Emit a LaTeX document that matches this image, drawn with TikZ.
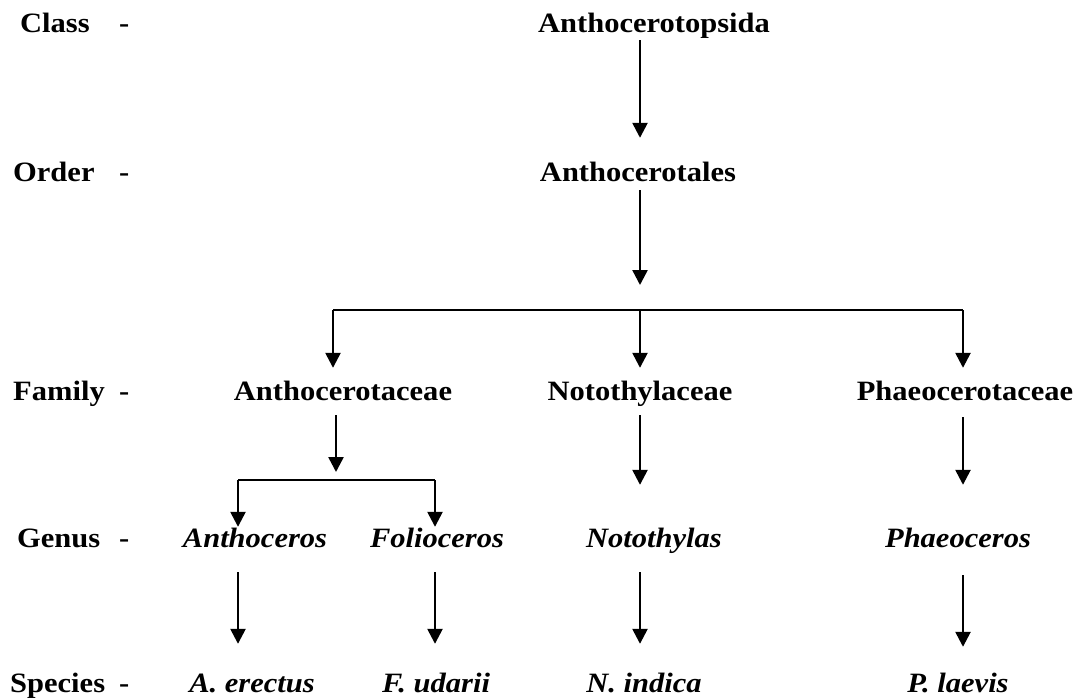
\documentclass[tikz,border=0pt]{standalone}
\usepackage{fontspec}
\setmainfont{Liberation Serif}[FakeStretch=1.09]
\usetikzlibrary{arrows.meta}

\begin{document}
\begin{tikzpicture}[x=1pt, y=-1pt,
	taxon/.style={font=\fontsize{28}{32}\selectfont\bfseries, text height=19pt, text depth=6pt, inner sep=0pt, anchor=base},
	genus/.style={taxon, font=\fontsize{28}{32}\selectfont\bfseries\itshape},
	rank/.style={taxon, anchor=base west},
	arr/.style={line width=2.5pt, -{Triangle[length=15pt,width=15pt]}},
	bar/.style={line width=2pt}]

	\useasboundingbox (0,0) rectangle (1078,699);

	% rank labels
	\foreach \rk/\x/\y in {Class/20/32, Order/13/181, Family/13/400, Genus/17/547, Species/10/692} {
		\node[rank] (\rk) at (\x,\y) {\rk};
		\node[rank] (\rk-dash) at (119,\y) {-};
	}

	% taxa
	\node[taxon] (top) at (654,32) {Anthocerotopsida};
	\node[taxon] (ord) at (638,181) {Anthocerotales};
	\node[taxon] (fam1) at (343,400) {Anthocerotaceae};
	\node[taxon] (fam2) at (640,400) {Notothylaceae};
	\node[taxon] (fam3) at (965,400) {Phaeocerotaceae};
	\node[genus] (gen1) at (255,547) {Anthoceros};
	\node[genus] (gen2) at (437,547) {Folioceros};
	\node[genus] (gen3) at (654,547) {Notothylas};
	\node[genus] (gen4) at (958,547) {Phaeoceros};
	\node[genus] (sp1) at (252,692) {A. erectus};
	\node[genus] (sp2) at (436,692) {F. udarii};
	\node[genus] (sp3) at (644,692) {N. indica};
	\node[genus] (sp4) at (958,692) {P. laevis};

	% branch points
	\coordinate (bl) at (333,310);
	\coordinate (bm) at (640,310);
	\coordinate (br) at (963,310);
	\coordinate (sl) at (238,480);
	\coordinate (sm) at (336,480);
	\coordinate (sr) at (435,480);

	\draw[arr, shorten <=2pt, shorten >=24pt] (top.south -| bm) -- (ord.north -| bm);
	\draw[arr, shorten <=3pt, shorten >=25pt] (ord.south -| bm) -- (bm);
	\draw[bar] (bl) -- (br);
	\draw[arr, shorten >=13pt] (bl) -- (bl |- fam1.north);
	\draw[arr, shorten >=13pt] (bm) -- (bm |- fam2.north);
	\draw[arr, shorten >=13pt] (br) -- (br |- fam3.north);

	\draw[arr, shorten <=9pt, shorten >=8pt] (fam1.south -| sm) -- (sm);
	\draw[bar] (sl) -- (sr);
	\draw[arr, shorten >=1pt] (sl) -- (sl |- gen1.north);
	\draw[arr, shorten >=1pt] (sr) -- (sr |- gen2.north);
	\draw[arr, shorten <=9pt, shorten >=43pt] (fam2.south -| bm) -- (gen3.north -| bm);
	\draw[arr, shorten <=11pt, shorten >=43pt] (fam3.south -| br) -- (gen4.north -| br);

	\draw[arr, shorten <=19pt, shorten >=29pt] (gen1.south -| sl) -- (sp1.north -| sl);
	\draw[arr, shorten <=19pt, shorten >=29pt] (gen2.south -| sr) -- (sp2.north -| sr);
	\draw[arr, shorten <=19pt, shorten >=29pt] (gen3.south -| bm) -- (sp3.north -| bm);
	\draw[arr, shorten <=22pt, shorten >=26pt] (gen4.south -| br) -- (sp4.north -| br);
\end{tikzpicture}
\end{document}
